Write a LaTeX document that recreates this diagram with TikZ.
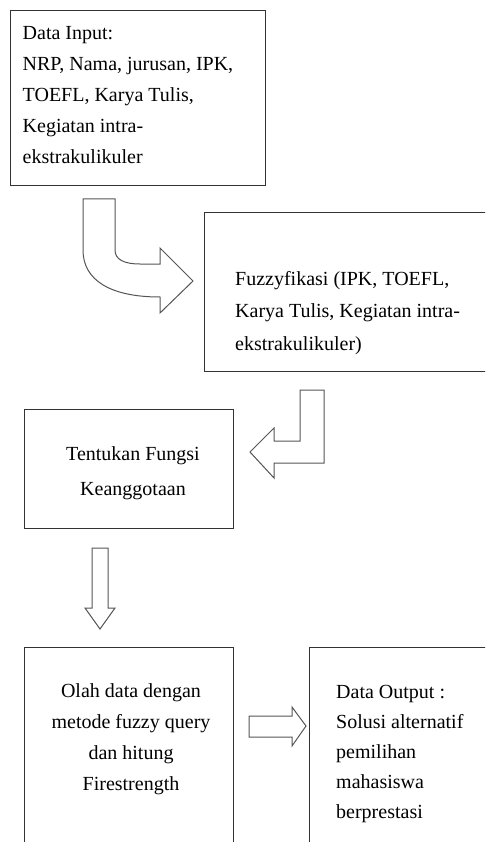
\documentclass[tikz,border=0pt]{standalone}
\usepackage{fontspec}
\setmainfont{Liberation Serif}
\definecolor{boxc}{HTML}{333333}
\definecolor{arrc}{HTML}{555555}
\tikzset{
  box/.style={draw=boxc, line width=1.4pt, inner sep=0pt, anchor=north west},
  blockarrow/.style={draw=arrc, line width=1pt, fill=white, line join=miter},
  txt/.style={inner sep=0pt, anchor=base west},
  ctxt/.style={inner sep=0pt, anchor=base},
}
\begin{document}
\begin{tikzpicture}[x=1pt, y=-1pt]
\useasboundingbox (0,0) rectangle (485,842);
\clip (0,0) rectangle (485,842);
\fill[white] (0,0) rectangle (485,842);

% boxes
\node[box, minimum width=255pt, minimum height=175pt] (input) at (10,10) {};
\node[box, minimum width=295pt, minimum height=159pt] (fuzzy) at (204,212) {};
\node[box, minimum width=209pt, minimum height=119pt] (fungsi) at (24,409) {};
\node[box, minimum width=209pt, minimum height=215pt] (olah) at (24,647) {};
\node[box, minimum width=190pt, minimum height=215pt] (output) at (309,647) {};

% texts
\node[txt] (tinput) at (22.5,40) {\fontsize{20}{31}\selectfont\parbox[t]{260pt}{\raggedright
Data Input:\\NRP, Nama, jurusan, IPK,\\TOEFL, Karya Tulis,\\Kegiatan intra-\\ekstrakulikuler}};
\node[txt] (tfuzzy) at (235,285) {\fontsize{20}{32.5}\selectfont\parbox[t]{260pt}{\raggedright
Fuzzyfikasi (IPK, TOEFL,\\Karya Tulis, Kegiatan intra-\\ekstrakulikuler)}};
\node[ctxt] (tfungsi) at (133,460) {\fontsize{20}{35}\selectfont\parbox[t]{200pt}{\centering
Tentukan Fungsi\\Keanggotaan}};
\node[ctxt] (tolah) at (131,697) {\fontsize{20}{31}\selectfont\parbox[t]{200pt}{\centering
Olah data dengan\\metode fuzzy query\\dan hitung\\Firestrength}};
\node[txt] (toutput) at (336,698) {\fontsize{20}{30}\selectfont\parbox[t]{200pt}{\raggedright
Data Output :\\Solusi alternatif\\pemilihan\\mahasiswa\\berprestasi}};

% block arrows
\draw[blockarrow] (83,199) -- (115,199) -- (115,250)
  .. controls (115,260) and (125,264) .. (140,264) -- (160,264)
  -- (160,248) -- (193,281) -- (160,313) -- (160,297)
  .. controls (110,297) and (83,280) .. (83,250) -- cycle;
\draw[blockarrow] (300,390) -- (324,390) -- (324,463) -- (274,463) -- (274,478)
  -- (250,452) -- (274,428) -- (274,441) -- (300,441) -- cycle;
\draw[blockarrow] (92,548) -- (108,548) -- (108,608) -- (115,608) -- (100,629)
  -- (85,608) -- (92,608) -- cycle;
\draw[blockarrow] (249,716) -- (292,716) -- (292,707) -- (306,726) -- (292,746)
  -- (292,737) -- (249,737) -- cycle;
\end{tikzpicture}
\end{document}
